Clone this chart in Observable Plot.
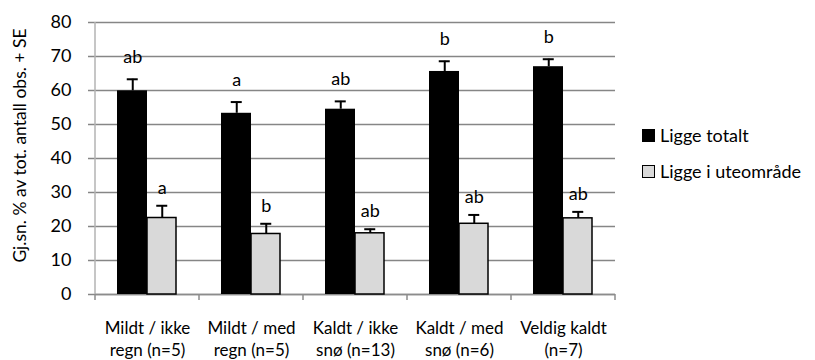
<!DOCTYPE html>
<html>
<head>
<meta charset="utf-8">
<script src="https://cdn.jsdelivr.net/npm/d3@7"></script>
<script src="https://cdn.jsdelivr.net/npm/@observablehq/plot@0.6"></script>
<style>
  html, body { margin: 0; padding: 0; background: #fff; }
  #wrap { position: relative; width: 815px; height: 360px; font-family: Lato, "Open Sans", sans-serif; }
  #legend { position: absolute; left: 642px; top: 0; font-size: 18px; color: #000; }
  .li { position: absolute; left: 0; white-space: nowrap; display: flex; align-items: center; }
  .sw { width: 13px; height: 13px; box-sizing: border-box; margin-right: 5px; }
</style>
</head>
<body>
<div id="wrap"></div>
<script>
// ---- data ----
const categories = [
  "Mildt / ikke\nregn (n=5)",
  "Mildt / med\nregn (n=5)",
  "Kaldt / ikke\nsnø (n=13)",
  "Kaldt / med\nsnø (n=6)",
  "Veldig kaldt\n(n=7)"
];
const seriesNames = ["Ligge totalt", "Ligge i uteområde"];
const totalt = [59.9, 53.3, 54.5, 65.6, 67.0];
const totaltSE = [3.4, 3.3, 2.3, 3.0, 2.2];
const totaltLetters = ["ab", "a", "ab", "b", "b"];
const ute = [22.5, 17.8, 18.0, 20.8, 22.4];
const uteSE = [3.6, 3.0, 1.2, 2.6, 1.9];
const uteLetters = ["a", "b", "ab", "ab", "ab"];
const yTicks = [0, 10, 20, 30, 40, 50, 60, 70, 80];
const yLabel = "Gj.sn. % av tot. antall obs. + SE";

const rows = [];
categories.forEach((c, i) => {
  rows.push({cat: c, series: seriesNames[0], value: totalt[i], se: totaltSE[i], letter: totaltLetters[i]});
  rows.push({cat: c, series: seriesNames[1], value: ute[i], se: uteSE[i], letter: uteLetters[i]});
});
const rowsT = rows.filter(d => d.series === seriesNames[0]);
const rowsU = rows.filter(d => d.series === seriesNames[1]);
const fills = {[seriesNames[0]]: "#000000", [seriesNames[1]]: "#d9d9d9"};

const W = 815, H = 360, mL = 95, mR = 200, mT = 22, mB = 66;

// category-boundary ticks below the x axis and the vertical y axis line
function axisLines(index, scales, values, dims) {
  const g = d3.create("svg:g");
  const bw = (dims.width - dims.marginLeft - dims.marginRight) / categories.length;
  const y0 = dims.height - dims.marginBottom;
  g.append("line").attr("x1", dims.marginLeft).attr("x2", dims.marginLeft)
    .attr("y1", dims.marginTop).attr("y2", y0)
    .attr("stroke", "#b3b3b3").attr("stroke-width", 1.5);
  for (let i = 0; i <= categories.length; i++) {
    const x = dims.marginLeft + i * bw;
    g.append("line").attr("x1", x).attr("x2", x).attr("y1", y0).attr("y2", y0 + 6)
      .attr("stroke", "#8c8c8c").attr("stroke-width", 1.5);
  }
  return g.node();
}

const off = 14.75;
const plot = Plot.plot({
  width: W, height: H,
  marginLeft: mL, marginRight: mR, marginTop: mT, marginBottom: mB,
  style: {fontFamily: "Lato, 'Open Sans', sans-serif", fontSize: "18px", color: "#000", background: "#fff"},
  x: {type: "band", domain: categories, padding: 0, label: null},
  y: {domain: [0, 80], label: null},
  marks: [
    Plot.gridY(yTicks, {stroke: "#868686", strokeOpacity: 1, strokeWidth: 1.5, insetLeft: -7}),
    axisLines,
    Plot.ruleY([0], {stroke: "#8c8c8c", strokeWidth: 1.5}),
    Plot.axisY(yTicks, {tickSize: 0, tickPadding: 24, fontSize: 18, label: null}),
    Plot.axisX({tickSize: 0, tickPadding: 24, fontSize: 17, lineHeight: 1.3, label: null}),
    Plot.text([yLabel], {frameAnchor: "left", textAnchor: "middle", dx: -75, dy: -13, rotate: -90, fontSize: 17.5, text: d => d}),
    Plot.barY(rowsT, {x: "cat", y: "value", fill: fills[seriesNames[0]], insetLeft: 22, insetRight: 52}),
    Plot.barY(rowsU, {x: "cat", y: "value", fill: fills[seriesNames[1]], stroke: "#000", strokeWidth: 1.5, insetLeft: 52, insetRight: 23}),
    Plot.ruleX(rowsT, {x: "cat", y1: "value", y2: d => d.value + d.se, dx: -off, stroke: "#000", strokeWidth: 2}),
    Plot.ruleX(rowsU, {x: "cat", y1: "value", y2: d => d.value + d.se, dx: off, stroke: "#000", strokeWidth: 2}),
    Plot.tickY(rowsT, {x: "cat", y: d => d.value + d.se, dx: -off, insetLeft: 46.5, insetRight: 46.5, stroke: "#000", strokeWidth: 2}),
    Plot.tickY(rowsU, {x: "cat", y: d => d.value + d.se, dx: off, insetLeft: 46.5, insetRight: 46.5, stroke: "#000", strokeWidth: 2}),
    Plot.text(rowsT, {x: "cat", y: d => d.value + d.se, text: "letter", dx: -off, dy: -22, lineAnchor: "middle", fontSize: 18, fill: "#000"}),
    Plot.text(rowsU, {x: "cat", y: d => d.value + d.se, text: "letter", dx: off, dy: -18, lineAnchor: "middle", fontSize: 18, fill: "#000"})
  ]
});

const wrap = document.getElementById("wrap");
wrap.appendChild(plot);

const legend = d3.select(wrap).append("div").attr("id", "legend");
const legendTops = [130, 166];
seriesNames.forEach((s, i) => {
  const item = legend.append("div").attr("class", "li").style("top", (legendTops[i] - 6) + "px");
  item.append("div").attr("class", "sw")
    .style("background", fills[s])
    .style("border", i === 1 ? "1.5px solid #000" : "none");
  item.append("span").text(s);
});
</script>
</body>
</html>
